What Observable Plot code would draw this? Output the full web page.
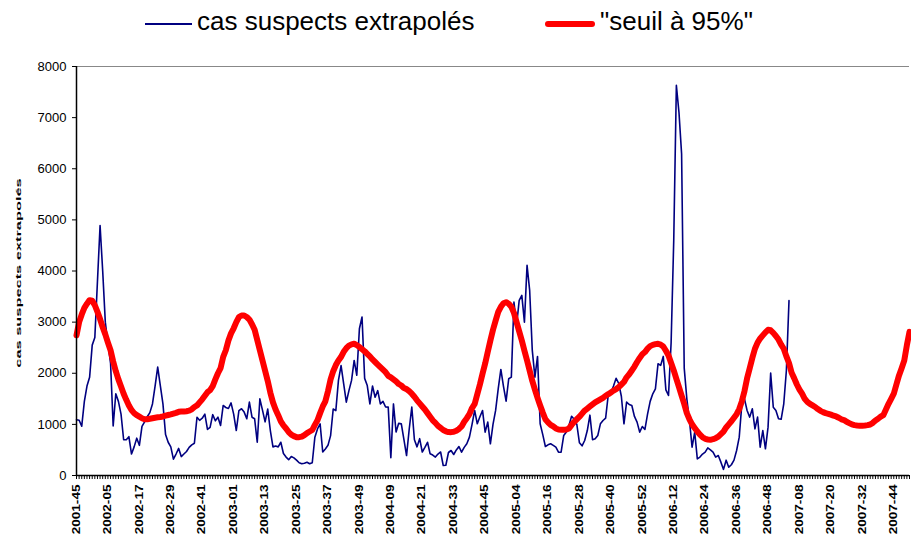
<!DOCTYPE html>
<html><head><meta charset="utf-8">
<script src="https://cdn.jsdelivr.net/npm/d3@7"></script>
<script src="https://cdn.jsdelivr.net/npm/@observablehq/plot@0.6"></script>
<style>
body{margin:0;background:#fff;font-family:"Liberation Sans",Arial,sans-serif;}
#legend{position:relative;height:40px;width:911px;}
.sw{position:absolute;}
.lt{position:absolute;font-size:26px;line-height:26px;white-space:nowrap;color:#000;}
</style></head>
<body>
<div id="legend">
  <div class="sw" style="left:145px;top:23px;width:47px;height:2px;background:#000080"></div>
  <span class="lt" style="left:197px;top:8px">cas suspects extrapolés</span>
  <div class="sw" style="left:545px;top:21px;width:50px;height:6px;border-radius:3px;background:#ff0000"></div>
  <span class="lt" style="left:600px;top:8px">"seuil à 95%"</span>
</div>
<div id="chart"></div>
<script>
// Week categories: 2001-45 onward (2004 has 53 ISO weeks)
const startYear = 2001, startWeek = 45, nWeeks = 319;
const weeksInYear = {2001:52, 2002:52, 2003:52, 2004:53, 2005:52, 2006:52, 2007:52};
const weeks = [];
{ let y = startYear, w = startWeek;
  for (let i = 0; i < nWeeks; i++) {
    weeks.push(y + "-" + String(w).padStart(2, "0"));
    w++; if (w > weeksInYear[y]) { w = 1; y++; }
  } }

const tickLabels = ["2001-45","2002-05","2002-17","2002-29","2002-41","2003-01","2003-13","2003-25","2003-37","2003-49","2004-09","2004-21","2004-33","2004-45","2005-04","2005-16","2005-28","2005-40","2005-52","2006-12","2006-24","2006-36","2006-48","2007-08","2007-20","2007-32","2007-44"];
const yTicks = [0,1000,2000,3000,4000,5000,6000,7000,8000];

// "cas suspects extrapolés" (weekly, from 2001-45)
const casSuspects = [
1090,1080,965,1450,1750,1920,2550,2700,3800,4890,
4000,3000,2580,2200,970,1600,1450,1200,700,700,
760,420,560,730,590,960,1050,1150,1230,1400,
1750,2120,1760,1400,800,650,560,320,420,530,
370,420,470,550,600,630,1140,1080,1120,1200,
900,940,1190,1070,1140,980,1370,1330,1310,1420,
1200,880,1270,1305,1240,1110,1435,1140,1110,650,
1500,1280,1050,1300,880,560,575,560,650,430,
360,310,370,345,300,250,230,240,260,230,
250,750,910,1010,460,520,590,780,1300,1270,
1860,2150,1790,1435,1660,1860,2250,1960,2870,3100,
1900,1760,1400,1750,1530,1660,1400,1450,1340,1337,
350,1400,850,1020,1010,700,390,900,1340,700,
560,720,460,550,650,424,400,360,420,460,
196,200,450,489,411,500,567,456,550,620,
750,1000,1272,1011,1150,1272,848,1044,620,1000,
1272,1700,2074,1742,1454,1892,1924,3392,2935,3425,
3523,3000,4110,3620,2446,1924,2329,1011,800,567,
600,620,590,554,456,456,783,850,980,1160,
1100,1000,640,580,685,880,1180,700,717,783,
1011,1076,1122,1579,1620,1750,1900,1800,1550,1011,
1435,1389,1370,1155,1044,848,959,900,1200,1450,
1598,1696,2185,2153,2329,1676,1566,2600,4600,7630,
7100,6290,2100,1500,1076,554,848,326,360,420,
457,541,502,457,359,391,261,120,300,163,
210,300,489,750,1400,1500,1272,1142,1305,913,
1142,554,880,522,946,2003,1337,1272,1109,1100,
1403,2055,3420
];

// "seuil à 95%" (weekly, from 2001-45)
const seuil = [
2740,3000,3150,3280,3360,3430,3420,3330,3200,3060,
2900,2760,2600,2450,2230,2040,1880,1740,1600,1480,
1370,1280,1220,1180,1150,1120,1100,1100,1110,1120,
1130,1138,1145,1155,1170,1183,1195,1210,1225,1245,
1250,1252,1258,1268,1295,1340,1370,1430,1490,1560,
1630,1670,1750,1880,2000,2100,2320,2450,2640,2780,
2880,3000,3100,3130,3130,3100,3050,2960,2850,2650,
2450,2250,2050,1850,1620,1430,1290,1180,1060,980,
920,850,800,770,750,750,760,790,830,860,
890,990,1080,1220,1350,1450,1650,1880,2040,2160,
2250,2320,2420,2490,2540,2565,2577,2550,2515,2470,
2430,2380,2330,2270,2220,2170,2120,2070,2020,1950,
1920,1880,1840,1790,1760,1710,1690,1650,1600,1540,
1470,1410,1350,1290,1220,1150,1080,1030,970,930,
890,865,850,848,855,875,910,960,1050,1120,
1200,1320,1400,1590,1780,1990,2190,2420,2640,2850,
3030,3200,3300,3370,3390,3360,3300,3180,3000,2820,
2640,2440,2250,2050,1850,1680,1520,1370,1230,1100,
1040,990,960,920,900,895,894,900,920,990,
1050,1100,1150,1210,1270,1310,1350,1390,1430,1460,
1490,1520,1560,1590,1625,1660,1690,1730,1780,1830,
1920,1980,2055,2130,2220,2300,2370,2414,2480,2530,
2555,2570,2577,2560,2524,2440,2348,2200,2055,1890,
1729,1560,1400,1220,1100,1000,930,860,800,750,
717,705,698,710,730,760,810,860,940,1000,
1060,1130,1200,1300,1450,1650,1900,2100,2300,2480,
2600,2680,2740,2800,2850,2840,2790,2730,2660,2560,
2479,2330,2200,2010,1900,1780,1680,1600,1500,1440,
1400,1370,1340,1300,1265,1240,1220,1207,1190,1170,
1155,1130,1100,1085,1050,1025,1000,985,978,975,
975,978,985,998,1030,1076,1110,1150,1180,1290,
1402,1500,1600,1780,1957,2100,2250,2550,2810
];

const blueData = casSuspects.map((v, i) => ({week: weeks[i], value: v}));
const redData = seuil.map((v, i) => ({week: weeks[i], value: v}));

const chart = Plot.plot({
  width: 911, height: 499,
  marginTop: 26, marginBottom: 64, marginLeft: 76, marginRight: 2,
  style: {fontFamily: "Liberation Sans, Arial, sans-serif", background: "white", color: "black", overflow: "visible"},
  x: {type: "point", domain: weeks, padding: 0},
  y: {domain: [0, 8000]},
  marks: [
    Plot.ruleY([8000], {stroke: "#888", strokeWidth: 1}),
    Plot.line(blueData, {x: "week", y: "value", stroke: "#000080", strokeWidth: 1.6}),
    Plot.line(redData, {x: "week", y: "value", stroke: "#ff0000", strokeWidth: 6, strokeLinejoin: "round", strokeLinecap: "round"}),
    Plot.ruleY([0], {stroke: "black", strokeWidth: 1.5}),
    Plot.ruleX([weeks[0]], {stroke: "black", strokeWidth: 1.5}),
    Plot.axisY({ticks: yTicks, tickSize: 4, tickPadding: 6, fontSize: 13, label: null, tickFormat: d => String(d)}),
    Plot.axisX({ticks: weeks, tickSize: 4, tickFormat: () => "", label: null}),
    Plot.axisX({ticks: tickLabels, tickSize: 0, tickPadding: 9, tickRotate: -90, fontSize: 10, fontWeight: "bold", label: null})
  ]
});
document.getElementById("chart").appendChild(chart);

const svg = d3.select(chart);
// stretch rotated tick labels along their length
svg.selectAll('g[aria-label="x-axis tick label"] text').each(function() {
  const t = this.getAttribute("transform") || "";
  this.setAttribute("transform", t + " scale(1.36,1)");
});
// y-axis title
svg.append("text")
  .attr("transform", "translate(21,233) rotate(-90) scale(2.05,1)")
  .attr("text-anchor", "middle")
  .attr("font-size", 8)
  .attr("font-weight", "bold")
  .attr("fill", "black")
  .text("cas suspects extrapolés");
</script>
</body></html>
